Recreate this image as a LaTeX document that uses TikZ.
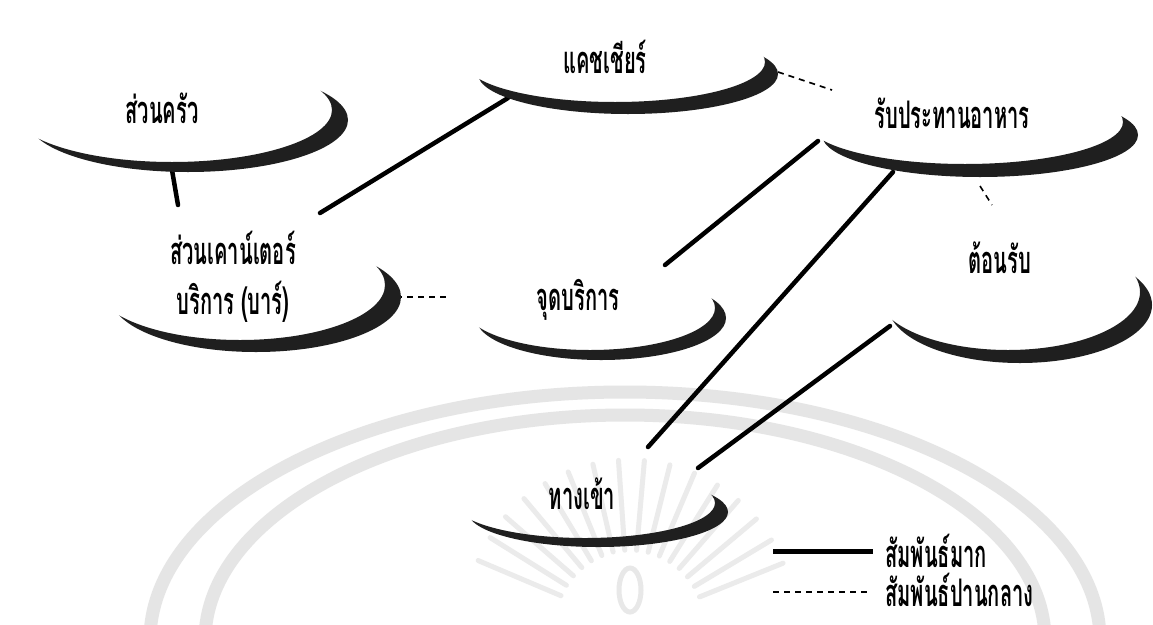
\documentclass[tikz,border=0pt]{standalone}
\usepackage{fontspec}
\newfontfamily\thaifont[Script=Thai,FakeStretch=0.53]{Loma}
\usetikzlibrary{calc,shapes.geometric}
\newcommand\moonshade[6]{%
  \begin{scope}[even odd rule]
    \clip (-200,-200) rectangle (1400,900)
       (#1,#2) ellipse [x radius=#3pt, y radius=#6pt];
    \fill[shadefill] (#1+#4,#2+#5) ellipse [x radius=#3pt, y radius=#6pt];
  \end{scope}}
\begin{document}
\begin{tikzpicture}[x=1pt,y=-1pt,
  bubble/.style={inner sep=0pt, align=center, font=\thaifont\bfseries\fontsize{38}{50}\selectfont},
  legendtext/.style={inner sep=0pt, anchor=west, font=\thaifont\bfseries\fontsize{38}{50}\selectfont},
  strong/.style={line width=4.5pt, line cap=round},
  medium/.style={line width=1.6pt, dash pattern=on 6pt off 5pt},
  shadefill/.style={fill=black!88},
  wm/.style={draw=black!10, line width=13pt},
  wmray/.style={draw=black!8, line width=5pt, line cap=round}]
\useasboundingbox[fill=white] (0,0) rectangle (1153,624);
% watermark
\draw[wm] (150,640) arc[start angle=180, end angle=0, x radius=475pt, y radius=248pt];
\draw[wm] (205,640) arc[start angle=180, end angle=0, x radius=420pt, y radius=225pt];
\coordinate (wc) at (630,625);
\foreach \a in {22,31,...,158} \draw[wmray] ($(wc)+(\a:75pt)$) -- ($(wc)+(\a:165pt)$);
\draw[draw=black!9, line width=5pt] (630,590) ellipse [x radius=11pt, y radius=22pt];
% nodes
\node[bubble] (K) at (162,108) {ส่วนครัว};
\node[bubble] (C) at (605,57) {แคชเชียร์};
\node[bubble] (D) at (952,113) {รับประทานอาหาร};
\node[bubble] (B) at (233,277) {ส่วนเคาน์เตอร์\\บริการ (บาร์)};
\node[bubble] (S) at (578,300) {จุดบริการ};
\node[bubble] (R) at (1000,258) {ต้อนรับ};
\node[bubble] (E) at (582,494) {ทางเข้า};
% connectors
\draw[strong] ($(K.center)+(10,62)$) -- ($(B.center)+(-55,-72)$);
\draw[strong] ($(B.center)+(87,-64)$) -- ($(C.center)+(-97,41)$);
\draw[medium] ($(C.center)+(173,15)$) -- ($(D.center)+(-120,-23)$);
\draw[strong] ($(D.center)+(-134,28)$) -- ($(S.center)+(87,-35)$);
\draw[strong] ($(D.center)+(-59,59)$) -- ($(E.center)+(66,-47)$);
\draw[medium] ($(D.center)+(28,73)$) -- ($(R.center)+(-8,-53)$);
\draw[strong] ($(R.center)+(-110,68)$) -- ($(E.center)+(116,-26)$);
\draw[medium] ($(B.center)+(152,20)$) -- ($(S.center)+(-130,-3)$);
% shadows
\moonshade{172}{110}{160}{16}{10}{52}
\moonshade{615}{62}{150}{13}{12}{40}
\moonshade{965}{122}{158}{15}{13}{42}
\moonshade{240}{285}{145}{16}{12}{55}
\moonshade{590}{308}{125}{11}{10}{42}
\moonshade{1008}{292}{132}{12}{13}{58}
\moonshade{585}{503}{130}{13}{9}{35}
% legend
\node[legendtext] (L1) at (885,551) {สัมพันธ์มาก};
\node[legendtext] (L2) at (885,590) {สัมพันธ์ปานกลาง};
\coordinate (l1) at (773,551);
\coordinate (l2) at (773,592);
\draw[line width=5pt] (l1) -- ($(L1.west)+(-12,0)$);
\draw[medium] (l2) -- ($(L2.west)+(-18,2)$);
\end{tikzpicture}
\end{document}
